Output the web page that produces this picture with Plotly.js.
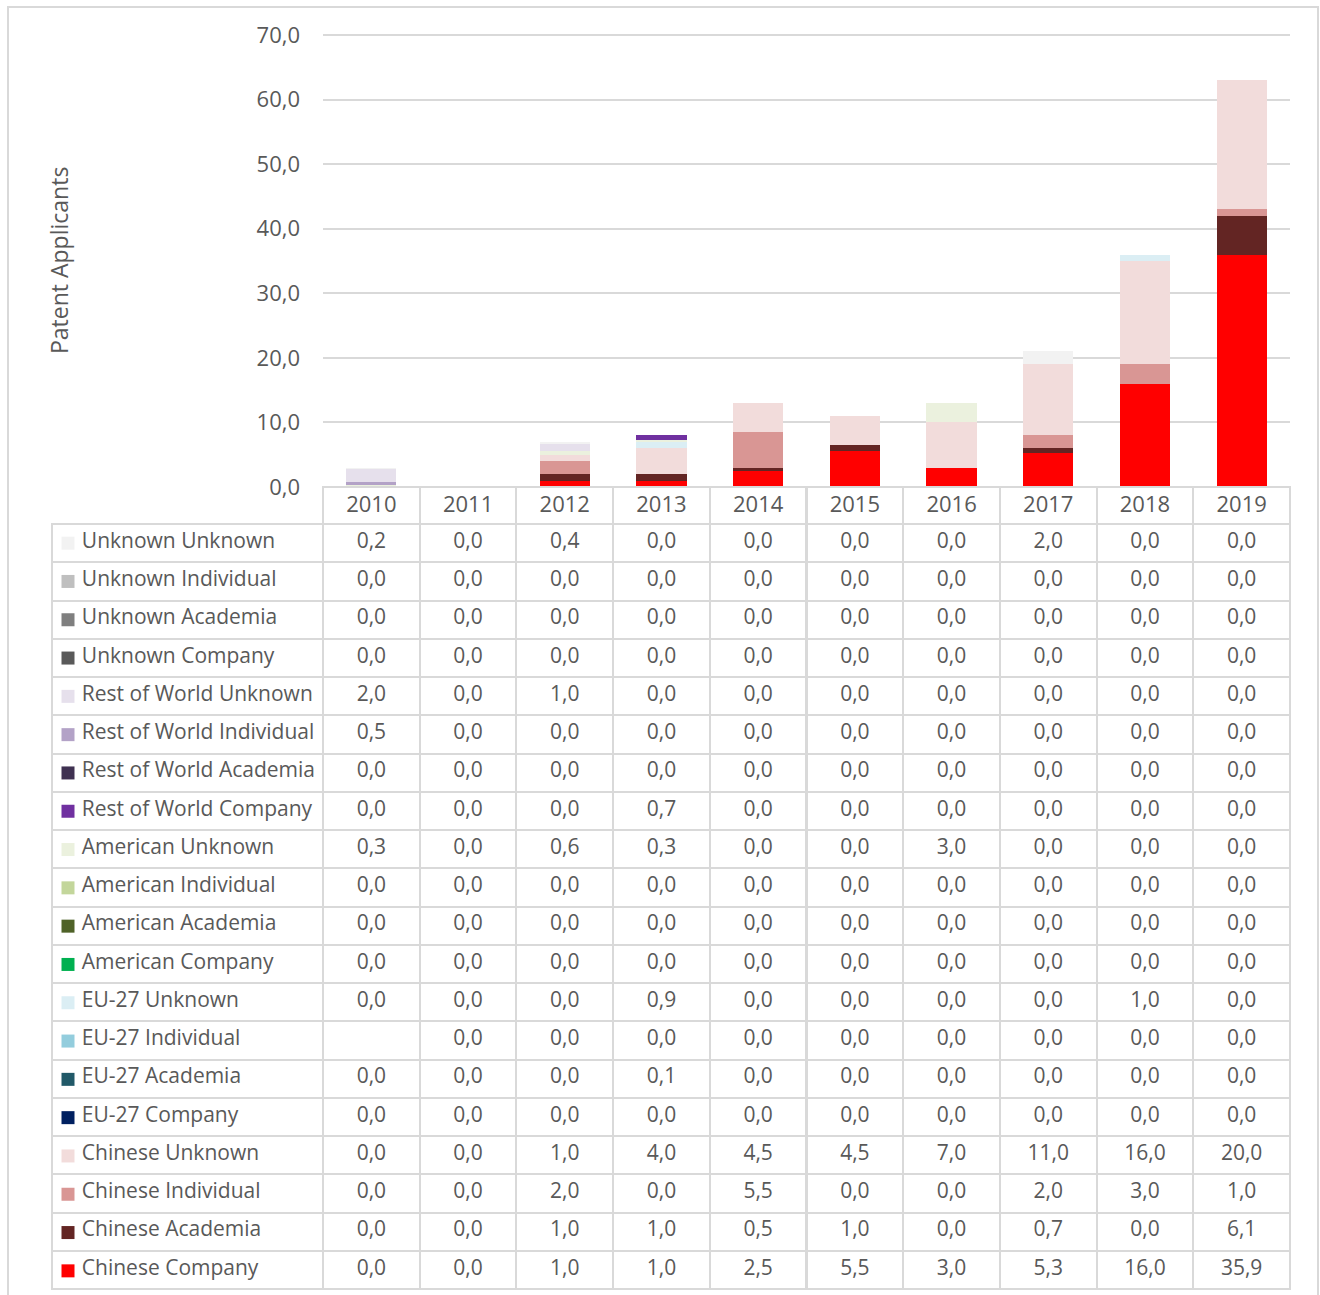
<!DOCTYPE html>
<html>
<head>
<meta charset="utf-8">
<script src="https://cdn.plot.ly/plotly-3.0.1.min.js"></script>
<style>
  html, body { margin: 0; padding: 0; background: #ffffff; }
  #chart { width: 1320px; height: 1295px; }
</style>
</head>
<body>
<div id="chart"></div>
<script>
// ---- Data ----
const years = ['2010','2011','2012','2013','2014','2015','2016','2017','2018','2019'];

// Series in the order of the data table (top to bottom)
const unknownUnknown      = [0.2, 0, 0.4, 0, 0, 0, 0, 2.0, 0, 0];
const unknownIndividual   = [0, 0, 0, 0, 0, 0, 0, 0, 0, 0];
const unknownAcademia     = [0, 0, 0, 0, 0, 0, 0, 0, 0, 0];
const unknownCompany      = [0, 0, 0, 0, 0, 0, 0, 0, 0, 0];
const rowUnknown          = [2.0, 0, 1.0, 0, 0, 0, 0, 0, 0, 0];
const rowIndividual       = [0.5, 0, 0, 0, 0, 0, 0, 0, 0, 0];
const rowAcademia         = [0, 0, 0, 0, 0, 0, 0, 0, 0, 0];
const rowCompany          = [0, 0, 0, 0.7, 0, 0, 0, 0, 0, 0];
const americanUnknown     = [0.3, 0, 0.6, 0.3, 0, 0, 3.0, 0, 0, 0];
const americanIndividual  = [0, 0, 0, 0, 0, 0, 0, 0, 0, 0];
const americanAcademia    = [0, 0, 0, 0, 0, 0, 0, 0, 0, 0];
const americanCompany     = [0, 0, 0, 0, 0, 0, 0, 0, 0, 0];
const euUnknown           = [0, 0, 0, 0.9, 0, 0, 0, 0, 1.0, 0];
const euIndividual        = [null, 0, 0, 0, 0, 0, 0, 0, 0, 0];
const euAcademia          = [0, 0, 0, 0.1, 0, 0, 0, 0, 0, 0];
const euCompany           = [0, 0, 0, 0, 0, 0, 0, 0, 0, 0];
const chineseUnknown      = [0, 0, 1.0, 4.0, 4.5, 4.5, 7.0, 11.0, 16.0, 20.0];
const chineseIndividual   = [0, 0, 2.0, 0, 5.5, 0, 0, 2.0, 3.0, 1.0];
const chineseAcademia     = [0, 0, 1.0, 1.0, 0.5, 1.0, 0, 0.7, 0, 6.1];
const chineseCompany      = [0, 0, 1.0, 1.0, 2.5, 5.5, 3.0, 5.3, 16.0, 35.9];

const seriesNames = [
  'Unknown Unknown','Unknown Individual','Unknown Academia','Unknown Company',
  'Rest of World Unknown','Rest of World Individual','Rest of World Academia','Rest of World Company',
  'American Unknown','American Individual','American Academia','American Company',
  'EU-27 Unknown','EU-27 Individual','EU-27 Academia','EU-27 Company',
  'Chinese Unknown','Chinese Individual','Chinese Academia','Chinese Company'
];
const seriesValues = [
  unknownUnknown, unknownIndividual, unknownAcademia, unknownCompany,
  rowUnknown, rowIndividual, rowAcademia, rowCompany,
  americanUnknown, americanIndividual, americanAcademia, americanCompany,
  euUnknown, euIndividual, euAcademia, euCompany,
  chineseUnknown, chineseIndividual, chineseAcademia, chineseCompany
];
const seriesColors = [
  '#f2f2f2','#bfbfbf','#7f7f7f','#595959',
  '#e6e0ec','#b3a2c7','#3f3151','#7030a0',
  '#ebf1de','#c3d69b','#4f6228','#00b050',
  '#dbeef4','#93cddd','#215968','#002060',
  '#f2dcdb','#d99694','#632523','#ff0000'
];
const yMax = 70;

// ---- Geometry (pixels) ----
const W = 1320, H = 1295;
const mL = 52, mR = 30, mT = 31, mB = 5;
const plotLeftPx = 323, zeroPx = 487, topTickPx = 35;
const headerHeight = 37;
const rowHeight = 38.25;
const pw = W - mL - mR, ph = H - mT - mB;
const xDomStart = (plotLeftPx - mL) / pw;
const yDomStart = (H - mB - zeroPx) / ph;
const yRangeTop = yMax * (zeroPx - mT) / (zeroPx - topTickPx);
const rowsTopPx = zeroPx + headerHeight;
const rowsDomTop = (H - mB - rowsTopPx) / ph;
const px2x = p => (p - mL) / pw;
const py2y = p => (H - mB - p) / ph;
const labelColW = plotLeftPx - mL;
const keyCenterPx = 16;   // legend key position inside label column

const textColor = '#595959';
const gridColor = '#d9d9d9';
const fontFam = '"Open Sans", "Noto Sans", "DejaVu Sans", sans-serif';
const clear = 'rgba(0,0,0,0)';
const NBSP = '\u00a0';

// ---- Bar traces (bottom of stack = last in table) ----
const traces = [];
for (let i = seriesNames.length - 1; i >= 0; i--) {
  traces.push({
    type: 'bar',
    name: seriesNames[i],
    x: years,
    y: seriesValues[i].map(v => v === null ? 0 : v),
    marker: { color: seriesColors[i], line: { width: 0 } },
    hoverinfo: 'x+y+name',
    showlegend: false,
    xaxis: 'x', yaxis: 'y'
  });
}

// ---- Legend keys in the table label column ----
traces.push({
  type: 'scatter',
  mode: 'markers',
  x: seriesNames.map(() => keyCenterPx),
  y: seriesNames,
  marker: { symbol: 'square', size: 13, color: seriesColors, line: { width: 0 } },
  hoverinfo: 'skip',
  showlegend: false,
  xaxis: 'x2', yaxis: 'y2'
});

// ---- Data table ----
const fmt = v => (v === null || v === undefined) ? '' : v.toFixed(1).replace('.', ',');
const pad = NBSP.repeat(4);
const labelCol = seriesNames.map(n => pad + n.split(' ').join(NBSP));
const tableCols = [labelCol];
years.forEach((y, j) => {
  tableCols.push(seriesValues.map(s => fmt(s[j])));
});

const yearColW = (W - mR - plotLeftPx) / years.length;

traces.push({
  type: 'table',
  domain: { x: [0, 1], y: [0, yDomStart] },
  columnwidth: [labelColW].concat(years.map(() => yearColW)),
  header: {
    values: [''].concat(years),
    height: headerHeight,
    align: ['left'].concat(years.map(() => 'center')),
    fill: { color: clear },
    line: { color: [clear].concat(years.map(() => gridColor)), width: 2 },
    font: { family: fontFam, size: 22, color: textColor }
  },
  cells: {
    values: tableCols,
    height: rowHeight,
    align: ['left'].concat(years.map(() => 'center')),
    fill: { color: clear },
    line: { color: gridColor, width: 2 },
    font: { family: fontFam, size: 21, color: textColor }
  }
});

const layout = {
  width: W, height: H,
  margin: { l: mL, r: mR, t: mT, b: mB, pad: 0 },
  paper_bgcolor: '#ffffff',
  plot_bgcolor: clear,
  separators: ',.',
  barmode: 'stack',
  bargap: 0.48,
  showlegend: false,
  font: { family: fontFam, size: 20, color: textColor },
  xaxis: {
    domain: [xDomStart, 1],
    type: 'category',
    showticklabels: false,
    showgrid: false,
    zeroline: false,
    showline: false,
    ticks: ''
  },
  yaxis: {
    domain: [yDomStart, 1],
    range: [0, yRangeTop],
    tick0: 0,
    dtick: 10,
    tickformat: '.1f',
    showgrid: true,
    gridcolor: gridColor,
    gridwidth: 2,
    zeroline: false,
    showline: false,
    ticks: '',
    ticklabelstandoff: 22,
    tickfont: { family: fontFam, size: 22, color: textColor },
    fixedrange: true
  },
  xaxis2: {
    domain: [0, xDomStart],
    range: [0, labelColW],
    visible: false,
    anchor: 'y2',
    fixedrange: true
  },
  yaxis2: {
    domain: [0, rowsDomTop],
    type: 'category',
    categoryorder: 'array',
    categoryarray: seriesNames,
    range: [seriesNames.length - 0.5, -0.5],
    visible: false,
    anchor: 'x2',
    fixedrange: true
  },
  annotations: [{
    text: 'Patent Applicants',
    xref: 'paper', yref: 'paper',
    x: px2x(59), y: py2y(261),
    xanchor: 'center', yanchor: 'middle',
    textangle: -90,
    showarrow: false,
    font: { family: fontFam, size: 23, color: textColor }
  }],
  shapes: [{
    type: 'rect', xref: 'paper', yref: 'paper', layer: 'below',
    x0: px2x(8), x1: px2x(1318), y0: py2y(1305), y1: py2y(7),
    line: { color: gridColor, width: 2 }, fillcolor: clear
  }]
};

Plotly.newPlot('chart', traces, layout, { displayModeBar: false, staticPlot: true });
</script>
</body>
</html>
